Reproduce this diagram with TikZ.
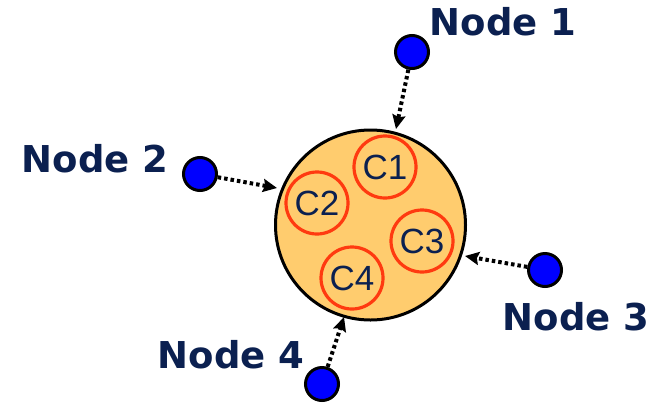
\documentclass[tikz,border=0pt]{standalone}
\usepackage{fontspec}
\setmainfont{Liberation Sans}
\newfontfamily\lblfont{DejaVu Sans}
\usetikzlibrary{arrows.meta}
\definecolor{navy}{HTML}{0B2050}
\definecolor{fillor}{HTML}{FFCC6E}
\definecolor{redring}{HTML}{FF3A10}
\definecolor{dotblue}{HTML}{0000FF}
\tikzset{
  big/.style={circle, draw=black, line width=3pt, fill=fillor, minimum size=190pt, inner sep=0pt},
  comp/.style={circle, draw=redring, line width=3.2pt, minimum size=62pt, inner sep=0pt, text=navy, font=\fontsize{35}{37}\selectfont},
  peer/.style={circle, draw=black, line width=3pt, fill=dotblue, minimum size=33pt, inner sep=0pt},
  lbl/.style={text=navy, font=\lblfont\bfseries\fontsize{37}{40}\selectfont, inner sep=0pt},
  link/.style={dash pattern=on 3.5pt off 3pt, line width=4pt, -{Stealth[length=14pt,width=13pt,inset=2pt]}, shorten >=0pt}
}
\begin{document}
\begin{tikzpicture}[x=1pt,y=-1pt]
\useasboundingbox (0,0) rectangle (652,402);
\node[big] (ring) at (370.5,225) {};
\node[comp] (c1) at (385,167) {C1};
\node[comp] (c2) at (317,203) {C2};
\node[comp] (c3) at (422,241) {C3};
\node[comp] (c4) at (352,278) {C4};
\node[peer] (n1) at (412,52) {};
\node[peer] (n2) at (200,174) {};
\node[peer] (n3) at (545,270) {};
\node[peer] (n4) at (322,384) {};
\node[lbl] (l1) at (503,22) {Node 1};
\node[lbl] (l2) at (95,159) {Node 2};
\node[lbl] (l3) at (576,317) {Node 3};
\node[lbl] (l4) at (231,355) {Node 4};
\coordinate (t1) at (396,129);
\coordinate (t2) at (277,188);
\coordinate (t3) at (465,256);
\coordinate (t4) at (344,317);
\draw[link] (n1) -- (t1);
\draw[link] (n2) -- (t2);
\draw[link] (n3) -- (t3);
\draw[link] (n4) -- (t4);
\end{tikzpicture}
\end{document}
